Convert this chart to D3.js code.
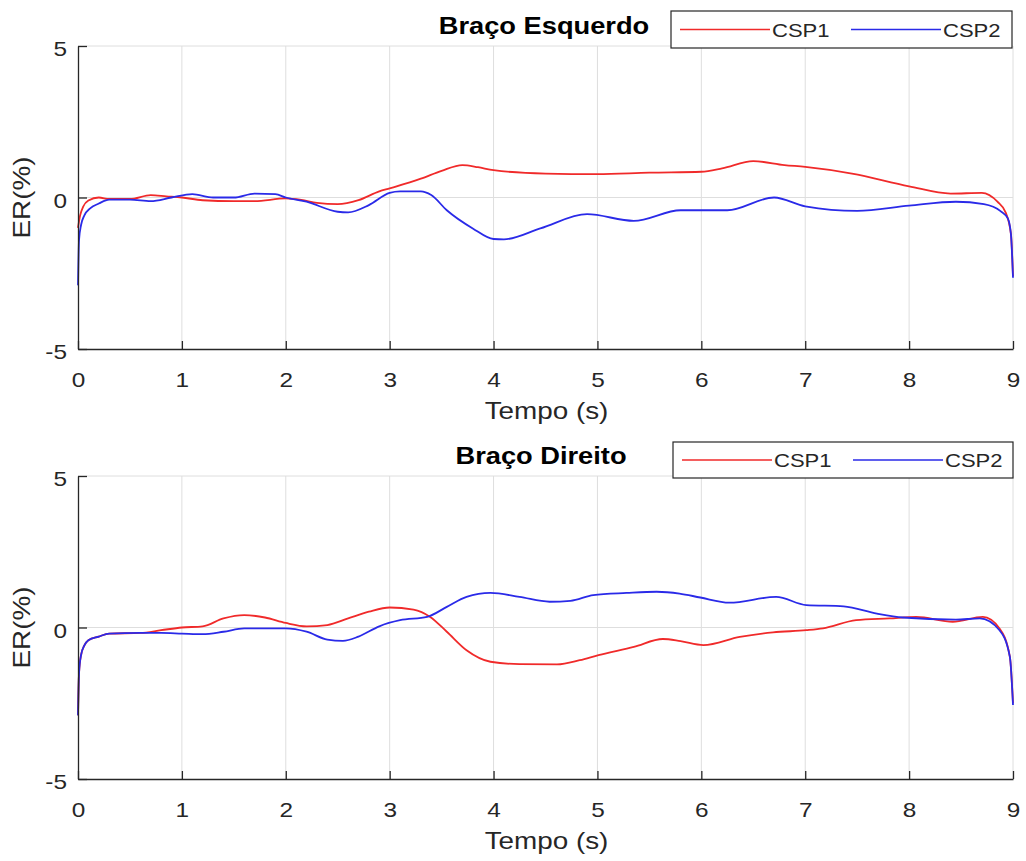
<!DOCTYPE html>
<html><head><meta charset="utf-8">
<script src="https://cdn.jsdelivr.net/npm/d3@7"></script>
<style>body{margin:0;background:#fff} svg{display:block}</style>
</head><body><svg id="chart" width="1026" height="861"></svg>
<script>
// ---------- data ----------
const xTicks = [0,1,2,3,4,5,6,7,8,9];
const yTicks = [-5,0,5];
const titles = ["Braço Esquerdo", "Braço Direito"];
const seriesNames = ["CSP1", "CSP2"];
const xLabel = "Tempo (s)";
const yLabel = "ER(%)";

// Braço Esquerdo
const leftCSP1_t = [0,0.02,0.05,0.1,0.2,0.3,0.5,0.7,0.85,1.0,1.2,1.5,1.7,2.0,2.15,2.3,2.5,2.7,2.9,3.0,3.3,3.5,3.7,3.85,4.0,4.5,5.0,5.5,6.0,6.2,6.5,6.8,7.0,7.45,8.0,8.4,8.7,8.85,8.93,8.98,9.0];
const leftCSP1_v = [-1.0,-0.6,-0.3,-0.1,0.0,-0.05,-0.05,0.08,0.04,0.0,-0.09,-0.12,-0.12,-0.03,-0.08,-0.18,-0.22,-0.09,0.2,0.3,0.62,0.88,1.07,1.0,0.9,0.79,0.77,0.82,0.85,0.96,1.2,1.07,1.01,0.79,0.37,0.13,0.15,-0.14,-0.5,-1.2,-2.6];
const leftCSP2_t = [0,0.01,0.03,0.06,0.12,0.2,0.3,0.5,0.7,0.9,1.1,1.3,1.5,1.7,1.9,2.0,2.2,2.5,2.6,2.8,3.0,3.1,3.3,3.4,3.55,3.8,4.0,4.1,4.45,4.9,5.35,5.8,6.0,6.25,6.7,7.0,7.5,8.0,8.45,8.72,8.88,8.95,8.98,9.0];
const leftCSP2_v = [-2.9,-1.4,-0.9,-0.6,-0.35,-0.2,-0.07,-0.07,-0.12,0.0,0.11,0.0,0.0,0.13,0.11,0.0,-0.14,-0.47,-0.49,-0.25,0.15,0.2,0.2,0.08,-0.42,-1.02,-1.37,-1.38,-1.02,-0.55,-0.77,-0.42,-0.42,-0.42,0.0,-0.29,-0.44,-0.27,-0.14,-0.22,-0.45,-0.69,-1.2,-2.65];

// Braço Direito
const rightCSP1_t = [0,0.01,0.03,0.06,0.1,0.2,0.3,0.6,0.8,1.0,1.2,1.4,1.6,1.8,2.0,2.2,2.4,2.6,2.8,3.0,3.23,3.39,3.55,3.74,3.97,4.25,4.61,4.83,5.01,5.35,5.63,5.8,6.02,6.37,6.69,7.01,7.17,7.49,7.81,8.07,8.42,8.71,8.87,8.97,9.0];
const rightCSP1_v = [-2.9,-1.5,-0.9,-0.6,-0.42,-0.3,-0.2,-0.18,-0.09,0.0,0.04,0.3,0.41,0.33,0.15,0.04,0.08,0.3,0.52,0.66,0.59,0.35,-0.14,-0.75,-1.13,-1.21,-1.22,-1.08,-0.91,-0.64,-0.38,-0.45,-0.58,-0.31,-0.16,-0.09,-0.03,0.24,0.3,0.35,0.19,0.35,-0.03,-0.97,-2.5];
const rightCSP2_t = [0,0.01,0.03,0.06,0.1,0.2,0.3,0.6,0.8,1.0,1.2,1.4,1.6,1.8,2.0,2.2,2.4,2.55,2.7,2.9,3.1,3.36,3.55,3.74,3.97,4.25,4.54,4.74,4.96,5.28,5.57,5.79,5.99,6.27,6.72,7.01,7.37,7.69,7.94,8.45,8.68,8.87,8.97,9.0];
const rightCSP2_v = [-2.9,-1.5,-0.9,-0.6,-0.42,-0.3,-0.2,-0.18,-0.18,-0.2,-0.22,-0.14,-0.03,-0.03,-0.03,-0.14,-0.4,-0.44,-0.3,0.04,0.24,0.35,0.68,1.01,1.14,1.01,0.85,0.88,1.07,1.14,1.18,1.12,0.99,0.82,1.01,0.74,0.7,0.46,0.33,0.26,0.3,-0.09,-0.97,-2.56];

// ---------- layout ----------
const colors = ["#f02a2a", "#2a2ae8"];
const SX = 1.16;          // horizontal stretch of text
const FONT = "'Liberation Sans', Arial, sans-serif";
const TXT = "#262626";
const panels = [
  {title: titles[0], top: 46, bottom: 349, titleX: 544, titleY: 34, xlabY: 419,
   legend: {x: 671, y: 11, w: 341, h: 37},
   series: [[leftCSP1_t, leftCSP1_v], [leftCSP2_t, leftCSP2_v]]},
  {title: titles[1], top: 476, bottom: 779, titleX: 541, titleY: 464, xlabY: 849,
   legend: {x: 673, y: 442, w: 340, h: 36},
   series: [[rightCSP1_t, rightCSP1_v], [rightCSP2_t, rightCSP2_v]]}
];

const svg = d3.select("#chart");
svg.append("rect").attr("width",1026).attr("height",861).attr("fill","#fff");
const x = d3.scaleLinear().domain([0, 9]).range([78, 1013]);
const fmt = d => String(d);

function stretchedText(parent, tx, ty, str, size, opts = {}) {
  const g = parent.append("g").attr("transform", `translate(${tx},${ty})${opts.rotate ? " rotate(-90)" : ""} scale(${SX},1)`);
  return g.append("text").text(str)
    .attr("font-family", FONT).attr("font-size", size)
    .attr("font-weight", opts.bold ? "bold" : "normal")
    .attr("text-anchor", opts.anchor || "middle")
    .attr("fill", opts.fill || TXT);
}

panels.forEach(p => {
  const y = d3.scaleLinear().domain([-5, 5]).range([p.bottom, p.top]);
  const g = svg.append("g");

  // grid
  g.append("g").selectAll("line").data(xTicks.filter(d => d > 0)).join("line")
    .attr("x1", d => x(d)).attr("x2", d => x(d)).attr("y1", p.top).attr("y2", p.bottom)
    .attr("stroke", "#dedede").attr("stroke-width", 1);
  g.append("g").selectAll("line").data(yTicks.filter(d => d > -5)).join("line")
    .attr("x1", x(0)).attr("x2", x(9)).attr("y1", d => y(d)).attr("y2", d => y(d))
    .attr("stroke", "#dedede").attr("stroke-width", 1);

  // series
  const line = d3.line().x(d => x(d[0])).y(d => y(d[1])).curve(d3.curveMonotoneX);
  p.series.forEach((s, i) => {
    const pts = s[0].map((t, k) => [t, s[1][k]]);
    g.append("path").datum(pts).attr("d", line)
      .attr("fill", "none").attr("stroke", colors[i]).attr("stroke-width", 1.8)
      .attr("stroke-linejoin", "round");
  });

  // axes
  const ax = g.append("g").attr("transform", `translate(0,${p.bottom})`)
    .call(d3.axisBottom(x).tickValues(xTicks).tickSizeInner(-8).tickSizeOuter(0).tickPadding(23).tickFormat(fmt));
  ax.select(".domain").attr("stroke", TXT).attr("stroke-width", 1.3);
  ax.selectAll(".tick line").attr("stroke", TXT).attr("stroke-width", 1.3);
  ax.selectAll(".tick text").attr("font-family", FONT).attr("font-size", 21).attr("fill", TXT)
    .attr("transform", `scale(${SX},1)`);

  const ay = g.append("g").attr("transform", `translate(${x(0)},0)`)
    .call(d3.axisLeft(y).tickValues(yTicks).tickSizeInner(-9).tickSizeOuter(0).tickPadding(11).tickFormat(fmt));
  ay.select(".domain").attr("stroke", TXT).attr("stroke-width", 1.3);
  ay.selectAll(".tick line").attr("stroke", TXT).attr("stroke-width", 1.3);
  ay.selectAll(".tick text").attr("font-family", FONT).attr("font-size", 21).attr("fill", TXT)
    .attr("x", -11 / SX).attr("y", 3).attr("transform", `scale(${SX},1)`);

  // labels
  stretchedText(g, (x(0) + x(9)) / 2 + 1, p.xlabY, xLabel, 24);
  stretchedText(g, 30, (p.top + p.bottom) / 2, yLabel, 24, {rotate: true});
  stretchedText(g, p.titleX, p.titleY, p.title, 23.5, {bold: true, fill: "#000"});

  // legend
  const L = p.legend;
  const lg = g.append("g");
  lg.append("rect").attr("x", L.x).attr("y", L.y).attr("width", L.w).attr("height", L.h)
    .attr("fill", "#fff").attr("stroke", TXT).attr("stroke-width", 1.2);
  const cy = L.y + L.h / 2;
  seriesNames.forEach((name, i) => {
    const x0 = L.x + 9 + i * 171;
    lg.append("line").attr("x1", x0).attr("x2", x0 + 90).attr("y1", cy).attr("y2", cy)
      .attr("stroke", colors[i]).attr("stroke-width", 1.6);
    stretchedText(lg, x0 + 92, cy + 7, name, 19, {anchor: "start"});
  });
});
</script>
</body></html>
